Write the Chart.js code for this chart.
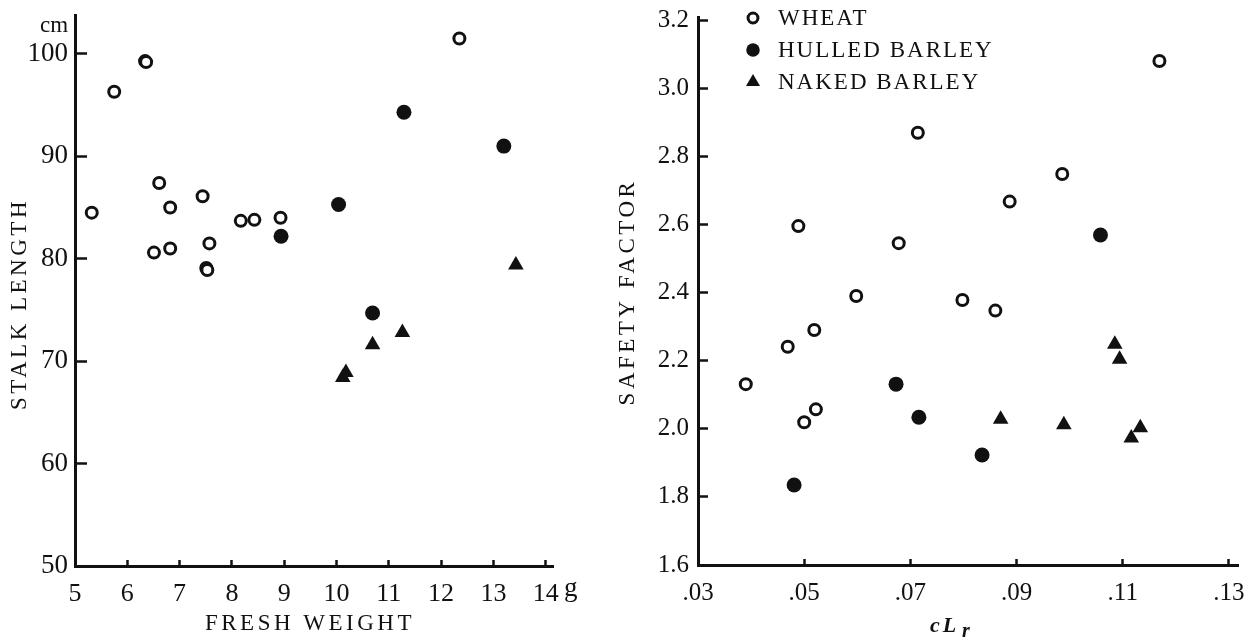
<!DOCTYPE html>
<html>
<head>
<meta charset="utf-8">
<script src="https://cdn.jsdelivr.net/npm/chart.js@4.4.1/dist/chart.umd.min.js"></script>
<style>
  html, body { margin: 0; padding: 0; background: #fff; }
  #wrap { position: relative; width: 1250px; height: 639px; }
  canvas { position: absolute; top: 0; }
  #weightChart { left: 0; }
  #factorChart { left: 600px; }
</style>
</head>
<body>
<div id="wrap">
  <canvas id="weightChart" width="600" height="639"></canvas>
  <canvas id="factorChart" width="650" height="639"></canvas>
</div>
<script>
// ---- left panel: fresh weight (g) vs stalk length (cm)
const wheatWeight  = [5.32, 5.75, 6.34, 6.36, 6.51, 6.61, 6.82, 6.82, 7.44, 7.51, 7.53, 7.57, 8.17, 8.43, 8.93, 12.35];
const wheatLength  = [84.5, 96.3, 99.3, 99.2, 80.6, 87.4, 85.0, 81.0, 86.1, 79.1, 78.9, 81.5, 83.7, 83.8, 84.0, 101.5];
const hulledWeight = [8.94, 10.04, 11.29, 13.20, 10.69];
const hulledLength = [82.2, 85.3, 94.3, 91.0, 74.7];
const nakedWeight  = [13.43, 11.26, 10.69, 10.12, 10.18];
const nakedLength  = [79.4, 72.8, 71.6, 68.4, 68.9];
const weightTicks  = [5, 6, 7, 8, 9, 10, 11, 12, 13, 14];
const lengthTicks  = [50, 60, 70, 80, 90, 100];

// ---- right panel: cLr vs safety factor
const wheatCLr     = [0.0489, 0.0678, 0.0598, 0.0714, 0.1169, 0.0986, 0.0887, 0.0798, 0.0860, 0.0390, 0.0469, 0.0519, 0.0500, 0.0522];
const wheatSafety  = [2.595, 2.545, 2.390, 2.869, 3.080, 2.748, 2.667, 2.378, 2.347, 2.131, 2.241, 2.290, 2.019, 2.057];
const hulledCLr    = [0.1058, 0.0481, 0.0673, 0.0716, 0.0835];
const hulledSafety = [2.569, 1.835, 2.131, 2.034, 1.923];
const nakedCLr     = [0.0870, 0.0989, 0.1085, 0.1094, 0.1133, 0.1116];
const nakedSafety  = [2.028, 2.012, 2.248, 2.204, 2.003, 1.973];
const clrTicks     = [0.03, 0.05, 0.07, 0.09, 0.11, 0.13];
const safetyTicks  = [1.6, 1.8, 2.0, 2.2, 2.4, 2.6, 2.8, 3.0, 3.2];

const seriesNames = ['WHEAT', 'HULLED BARLEY', 'NAKED BARLEY'];

const INK = '#111';
const SERIF = '"Liberation Serif", "DejaVu Serif", serif';

const pts = (xs, ys) => xs.map((x, i) => ({ x: x, y: ys[i] }));

function makeSets(wx, wy, hx, hy, nx, ny) {
  return [
    { label: seriesNames[0], data: pts(wx, wy), pointStyle: 'circle', radius: 5.5,
      backgroundColor: '#fff', borderColor: INK, borderWidth: 3 },
    { label: seriesNames[1], data: pts(hx, hy), pointStyle: 'circle', radius: 7.5,
      backgroundColor: INK, borderColor: INK, borderWidth: 0 },
    { label: seriesNames[2], data: pts(nx, ny), pointStyle: 'triangle', radius: 9,
      backgroundColor: INK, borderColor: INK, borderWidth: 0 }
  ];
}

function axis(min, max, tickValues, fmt, fontSize, tickLen) {
  return {
    type: 'linear', min: min, max: max,
    afterBuildTicks: s => { s.ticks = tickValues.map(v => ({ value: v })); },
    border: { display: true, color: INK, width: 3 },
    grid: { display: true, drawOnChartArea: false, drawTicks: true, tickLength: tickLen,
            tickColor: INK, tickWidth: 2.5 },
    ticks: { color: INK, padding: 19, font: { family: SERIF, size: fontSize },
             callback: v => fmt(v), autoSkip: false, maxRotation: 0 }
  };
}

// axis titles, units and the legend are drawn as canvas text (letter spaced like the print)
const paperText = {
  id: 'paperText',
  afterDraw(chart, args, opts) {
    const ctx = chart.ctx;
    (opts.items || []).forEach(t => {
      ctx.save();
      ctx.fillStyle = INK;
      ctx.font = t.font;
      ctx.letterSpacing = (t.spacing || 0) + 'px';
      ctx.textAlign = t.align || 'center';
      ctx.textBaseline = t.baseline || 'middle';
      ctx.translate(t.x, t.y);
      if (t.rotate) ctx.rotate(t.rotate);
      ctx.fillText(t.text, 0, 0);
      ctx.restore();
    });
    if (opts.legend) {
      const lg = opts.legend;
      chart.data.datasets.forEach((ds, i) => {
        const y = lg.y + i * lg.step;
        ctx.save();
        ctx.fillStyle = ds.backgroundColor;
        ctx.strokeStyle = ds.borderColor;
        ctx.lineWidth = ds.borderWidth;
        Chart.helpers.drawPoint(ctx, { pointStyle: ds.pointStyle, radius: ds.radius * 0.9,
          borderWidth: ds.borderWidth, rotation: 0 }, lg.x, y);
        ctx.fillStyle = INK;
        ctx.font = '23px ' + SERIF;
        ctx.letterSpacing = '2px';
        ctx.textAlign = 'left';
        ctx.textBaseline = 'middle';
        ctx.fillText(ds.label, lg.x + 25, y + 1);
        ctx.restore();
      });
    }
  }
};

const common = {
  responsive: false,
  animation: false,
  events: [],
  plugins: { legend: { display: false }, tooltip: { enabled: false } }
};

new Chart(document.getElementById('weightChart'), {
  type: 'scatter',
  data: { datasets: makeSets(wheatWeight, wheatLength, hulledWeight, hulledLength, nakedWeight, nakedLength) },
  options: Object.assign({}, common, {
    layout: { padding: { top: 15, right: 47, left: 0, bottom: 0 } },
    scales: {
      x: Object.assign(axis(5, 14.14, weightTicks, v => String(v), 26, -6), {
        afterFit: s => { s.height = 73; s.paddingLeft = 0; s.paddingRight = 0; }
      }),
      y: Object.assign(axis(50, 103.8, lengthTicks, v => String(v), 27, -12), {
        afterFit: s => { s.width = 75; s.paddingTop = 0; s.paddingBottom = 0; }
      })
    },
    plugins: Object.assign({}, common.plugins, {
      paperText: { items: [
        { text: 'STALK LENGTH', x: 20, y: 304, rotate: -Math.PI / 2, font: '23px ' + SERIF, spacing: 3.5 },
        { text: 'FRESH WEIGHT', x: 310, y: 624, font: '23px ' + SERIF, spacing: 3.5 },
        { text: 'cm', x: 54, y: 26, font: '23px ' + SERIF },
        { text: 'g', x: 564, y: 596, align: 'left', baseline: 'alphabetic', font: '27px ' + SERIF }
      ] }
    })
  }),
  plugins: [paperText]
});

new Chart(document.getElementById('factorChart'), {
  type: 'scatter',
  data: { datasets: makeSets(wheatCLr, wheatSafety, hulledCLr, hulledSafety, nakedCLr, nakedSafety) },
  options: Object.assign({}, common, {
    layout: { padding: { top: 17, right: 12, left: 0, bottom: 0 } },
    scales: {
      x: Object.assign(axis(0.03, 0.1317, clrTicks, v => v.toFixed(2).slice(1), 25, -6), {
        afterFit: s => { s.height = 74; s.paddingLeft = 0; s.paddingRight = 0; }
      }),
      y: Object.assign(axis(1.6, 3.209, safetyTicks, v => v.toFixed(1), 25, -10), {
        afterFit: s => { s.width = 98; s.paddingTop = 0; s.paddingBottom = 0; }
      })
    },
    plugins: Object.assign({}, common.plugins, {
      paperText: {
        items: [
          { text: 'SAFETY FACTOR', x: 28, y: 292, rotate: -Math.PI / 2, font: '23px ' + SERIF, spacing: 3.5 },
          { text: 'cL', x: 330, y: 626, align: 'left', font: 'italic bold 22px ' + SERIF, spacing: 3 },
          { text: 'r', x: 362, y: 632, align: 'left', font: 'italic bold 20px ' + SERIF }
        ],
        legend: { x: 153, y: 18, step: 32 }
      }
    })
  }),
  plugins: [paperText]
});
</script>
</body>
</html>
